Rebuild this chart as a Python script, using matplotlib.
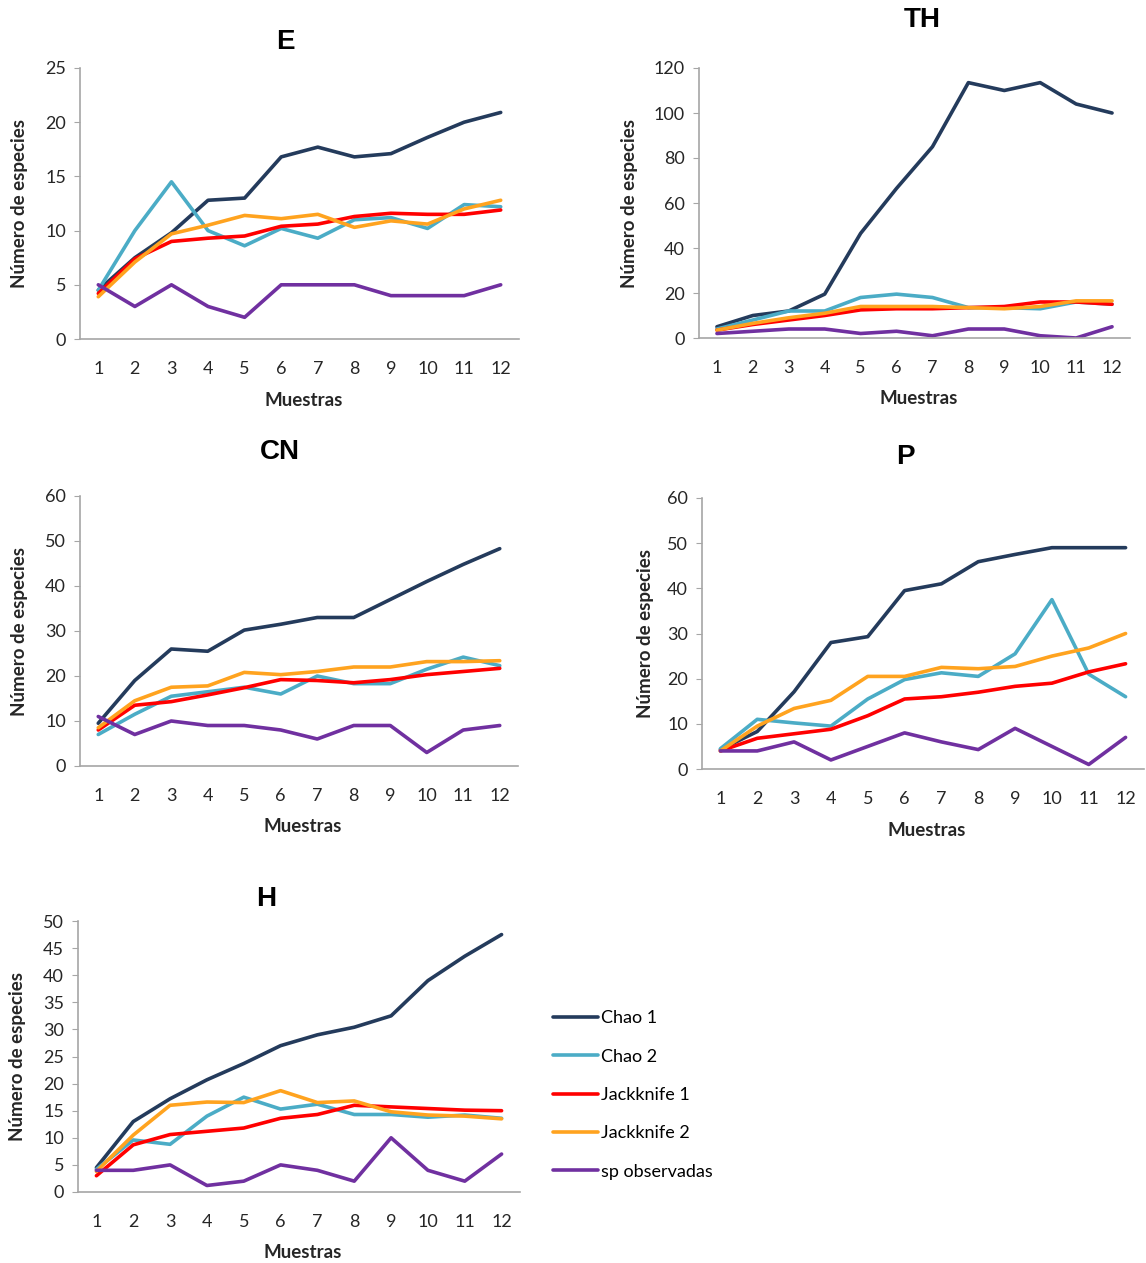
import matplotlib
matplotlib.use('Agg')
import matplotlib.pyplot as plt
import numpy as np

W, H = 1146, 1263

muestras = list(range(1, 13))
series_names = ['Chao 1', 'Chao 2', 'Jackknife 1', 'Jackknife 2', 'sp observadas']
series_colors = ['#243b5c', '#4bacc6', '#ff0000', '#ffa31f', '#7030a0']

# E
e_chao1 = [4.5, 7.5, 9.8, 12.8, 13.0, 16.8, 17.7, 16.8, 17.1, 18.6, 20.0, 20.9]
e_chao2 = [4.5, 10.0, 14.5, 10.0, 8.6, 10.2, 9.3, 11.0, 11.2, 10.2, 12.4, 12.2]
e_jack1 = [4.2, 7.4, 9.0, 9.3, 9.5, 10.4, 10.6, 11.3, 11.6, 11.5, 11.5, 11.9]
e_jack2 = [3.9, 7.1, 9.7, 10.5, 11.4, 11.1, 11.5, 10.3, 10.9, 10.6, 12.0, 12.8]
e_obs = [5, 3, 5, 3, 2, 5, 5, 5, 4, 4, 4, 5]

# TH
th_chao1 = [5, 10, 12, 19.5, 46.5, 66.5, 85, 113.5, 110, 113.5, 104, 100]
th_chao2 = [4, 8, 12, 12, 18, 19.5, 18, 13.5, 13.5, 13, 16, 15]
th_jack1 = [3.5, 6, 8, 10, 12.5, 13, 13, 13.5, 14, 16, 16, 15]
th_jack2 = [3.5, 6.5, 9, 11, 14, 14, 14, 13.5, 13, 14, 16.5, 16.5]
th_obs = [2, 3, 4, 4, 2, 3, 1, 4, 4, 1, 0, 5]

# CN
cn_chao1 = [9.5, 19, 26, 25.5, 30.2, 31.5, 33, 33, 37, 41, 44.8, 48.3]
cn_chao2 = [7, 11.5, 15.5, 16.5, 17.5, 16, 20, 18.3, 18.3, 21.5, 24.2, 22.3]
cn_jack1 = [8, 13.5, 14.3, 15.8, 17.4, 19.2, 19, 18.5, 19.2, 20.3, 21, 21.7]
cn_jack2 = [8.5, 14.5, 17.5, 17.8, 20.8, 20.3, 21, 22, 22, 23.2, 23.2, 23.4]
cn_obs = [11, 7, 10, 9, 9, 8, 6, 9, 9, 3, 8, 9]

# P
p_chao1 = [4.3, 8.3, 17.1, 28, 29.3, 39.5, 41, 45.9, 47.5, 49, 49, 49]
p_chao2 = [4.5, 11, 10.2, 9.5, 15.5, 19.8, 21.3, 20.5, 25.5, 37.5, 21, 16]
p_jack1 = [4, 6.8, 7.8, 8.8, 11.8, 15.5, 16, 17, 18.3, 19, 21.5, 23.3]
p_jack2 = [4, 9.5, 13.4, 15.2, 20.5, 20.5, 22.5, 22.2, 22.7, 25, 26.8, 30]
p_obs = [4, 4, 6, 2, 5, 8, 6, 4.3, 9, 5, 1, 7]

# H
h_chao1 = [4.5, 13, 17.2, 20.7, 23.7, 27, 29, 30.4, 32.5, 39, 43.5, 47.5]
h_chao2 = [4.2, 9.6, 8.8, 14, 17.5, 15.3, 16.2, 14.3, 14.3, 13.8, 14.2, 13.6]
h_jack1 = [3, 8.7, 10.6, 11.2, 11.8, 13.6, 14.3, 16, 15.7, 15.4, 15.1, 15]
h_jack2 = [3.8, 10.5, 16, 16.6, 16.5, 18.7, 16.5, 16.8, 14.8, 14.2, 14, 13.5]
h_obs = [4, 4, 5, 1.2, 2, 5, 4, 2, 10, 4, 2, 7]

panels = [
    # title, data, ymax, ystep, (left, right, y0px, ytop_px), title_xy, ylabel_x
    ('E', [e_chao1, e_chao2, e_jack1, e_jack2, e_obs], 25, 5, (80, 519, 339, 68), (285, 42), 20),
    ('TH', [th_chao1, th_chao2, th_jack1, th_jack2, th_obs], 120, 20, (699, 1130, 338, 68), (922, 20), 630),
    ('CN', [cn_chao1, cn_chao2, cn_jack1, cn_jack2, cn_obs], 60, 10, (80, 518, 766, 496), (280, 452), 20),
    ('P', [p_chao1, p_chao2, p_jack1, p_jack2, p_obs], 60, 10, (702, 1144, 769, 498), (905, 457), 645),
    ('H', [h_chao1, h_chao2, h_jack1, h_jack2, h_obs], 50, 5, (78, 520, 1192, 921), (266, 899), 18),
]

fig = plt.figure(figsize=(W / 100, H / 100), dpi=100)
axis_gray = '#a6a6a6'
text_col = '#262626'

for title, data, ymax, ystep, (l, r, y0, yt), (tx, ty), ylx in panels:
    ax = fig.add_axes([l / W, 1 - y0 / H, (r - l) / W, (y0 - yt) / H])
    for vals, name, col in zip(data, series_names, series_colors):
        ax.plot(muestras, vals, color=col, linewidth=2.6, label=name,
                solid_joinstyle='round', solid_capstyle='round')
    ax.set_xlim(0.5, 12.5)
    ax.set_ylim(0, ymax)
    ax.set_xticks(muestras)
    ax.set_yticks(np.arange(0, ymax + ystep / 2, ystep))
    for s in ['top', 'right']:
        ax.spines[s].set_visible(False)
    for s in ['left', 'bottom']:
        ax.spines[s].set_color(axis_gray)
        ax.spines[s].set_linewidth(1.2)
    ax.tick_params(axis='y', length=4, color=axis_gray, labelsize=13,
                   labelcolor=text_col, pad=6)
    ax.tick_params(axis='x', length=0, labelsize=13, labelcolor=text_col, pad=16)
    for lab in ax.get_xticklabels() + ax.get_yticklabels():
        lab.set_family('Lato')
    fig.text(tx / W, 1 - ty / H, title, ha='center', va='center',
             fontsize=20, fontweight='bold', family='Liberation Sans', color='black')
    fig.text(ylx / W, 1 - ((y0 + yt) / 2) / H, 'Número de especies', rotation=90,
             ha='center', va='center', fontsize=13.5, fontweight='bold',
             family='Lato', color=text_col)
    fig.text(((l + r) / 2 + 4) / W, 1 - (y0 + 61) / H, 'Muestras', ha='center',
             va='center', fontsize=13.5, fontweight='bold', family='Lato', color=text_col)
    last_ax = ax

handles, labels = last_ax.get_legend_handles_labels()
fig.legend(handles, labels, loc='upper left', bbox_to_anchor=(537 / W, 1 - 994 / H),
           frameon=False, handlelength=2.5, handletextpad=0.15, labelspacing=1.24,
           prop={'family': 'Lato', 'size': 13})

fig.savefig('out.png', dpi=100, facecolor='white')
